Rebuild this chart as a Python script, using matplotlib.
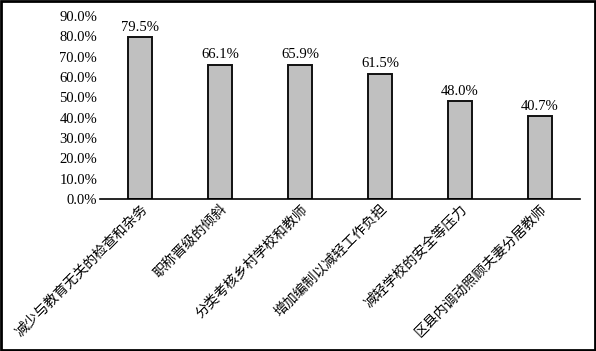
import matplotlib.pyplot as plt
from matplotlib.patches import Rectangle
from matplotlib.ticker import FuncFormatter

categories = ['减少与教育无关的检查和杂务', '职称晋级的倾斜', '分类考核乡村学校和教师',
              '增加编制以减轻工作负担', '减轻学校的安全等压力', '区县内调动照顾夫妻分居教师']
values = [79.5, 66.1, 65.9, 61.5, 48.0, 40.7]
yticks = [0, 10, 20, 30, 40, 50, 60, 70, 80, 90]


def draw_chart():
    fig = plt.figure(figsize=(5.96, 3.51), dpi=100)
    ax = fig.add_axes([100 / 596, 152 / 351, 480 / 596, 183 / 351])

    x = range(len(categories))
    ax.bar(x, values, width=0.31, color='#C0C0C0', edgecolor='#111111', linewidth=1.4)

    for xi, v in zip(x, values):
        ax.text(xi, v + 1.8, f'{v:.1f}%', ha='center', va='bottom',
                fontsize=10.5, family='Liberation Serif')

    ax.set_xlim(-0.5, len(categories) - 0.5)
    ax.set_ylim(0, 90)
    ax.set_yticks(yticks)
    ax.yaxis.set_major_formatter(FuncFormatter(lambda v, p: f'{v:.1f}%'))
    for lbl in ax.get_yticklabels():
        lbl.set_family('Liberation Serif')
        lbl.set_fontsize(10.5)
    ax.tick_params(axis='y', length=0, pad=2)
    ax.tick_params(axis='x', length=0, pad=2)

    ax.set_xticks(list(x))
    ax.set_xticklabels(categories, rotation=45, ha='right', va='top',
                       rotation_mode='anchor', fontsize=10, fontweight='medium',
                       family=['Noto Sans CJK SC', 'DejaVu Sans'])

    for side in ['left', 'top', 'right']:
        ax.spines[side].set_visible(False)
    ax.spines['bottom'].set_linewidth(1.2)

    # frame round the whole picture
    fig.patches.append(Rectangle((0.002, 0.003), 0.996, 0.994, transform=fig.transFigure,
                                 fill=False, edgecolor='black', linewidth=2))

    fig.savefig('out.png', dpi=100)


def main():
    draw_chart()


if __name__ == '__main__':
    main()
